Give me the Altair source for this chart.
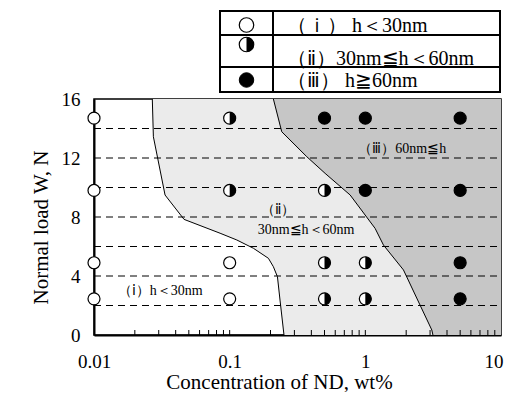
import altair as alt
import pandas as pd

# ---- data ----
conc = [0.01] * 4 + [0.1] * 4 + [0.5] * 4 + [1] * 4 + [5] * 4
load = [2.45, 4.9, 9.8, 14.7] * 5
state = (["open"] * 4 + ["open", "open", "half", "half"] + ["half", "half", "half", "full"]
         + ["half", "half", "full", "full"] + ["full"] * 4)

b1_x = [0.0269, 0.0274, 0.0334, 0.0461, 0.085, 0.113, 0.1496, 0.193, 0.210, 0.225, 0.235, 0.249, 0.2515]
b1_y = [16, 13.44, 9.49, 7.84, 6.9, 6.44, 5.88, 5.20, 4.63, 3.95, 2.37, 0.34, 0]
b2_x = [0.21, 0.242, 0.37, 0.505, 0.773, 1.18, 1.36, 1.91, 3.09, 3.15]
b2_y = [16, 13.78, 12.09, 10.96, 9.49, 7.23, 6.1, 4.41, 0.34, 0]

grid_y = [2, 4, 6, 8, 10, 12, 14]
minor_x = [0.02, 0.03, 0.04, 0.05, 0.06, 0.07, 0.08, 0.09, 0.1,
           0.2, 0.3, 0.4, 0.5, 0.6, 0.7, 0.8, 0.9, 1,
           2, 3, 4, 5, 6, 7, 8, 9]

region_text = ["（ⅲ）60nm≦h", "（ⅱ）", "30nm≦h＜60nm", "（ⅰ）h＜30nm"]
region_x = [1.87, 0.2256, 0.366, 0.0307]
region_y = [12.6, 8.47, 7.12, 2.98]

legend_text = ["（ｉ） h＜30nm", "（ⅱ）30nm≦h＜60nm", "（ⅲ） h≧60nm"]
legend_state = ["open", "half", "full"]
row_top = [0, 24, 56]
row_bot = [24, 56, 81]
sym_y = [14, 33.5, 69]
text_y = [15, 48, 70]
col_left = [0, 53]
col_right = [53, 280]

FONT = "Liberation Serif"
W, H = 407, 236

pts = pd.DataFrame({"x": conc, "y": load, "state": state})
b1 = pd.DataFrame({"x": b1_x, "y": b1_y})
b2 = pd.DataFrame({"x": b2_x, "y": b2_y})
# regions to the right of each boundary close at the lower-right corner of the plot
a1 = pd.DataFrame({"x": b1_x + [10], "y": b1_y + [0]})
a2 = pd.DataFrame({"x": b2_x + [10], "y": b2_y + [0]})
grid = pd.DataFrame({"y": grid_y})
ticks = pd.DataFrame({"x": minor_x})
rlab = pd.DataFrame({"x": region_x, "y": region_y, "t": region_text})

xs = alt.Scale(type="log", domain=[0.01, 10], nice=False)
ys = alt.Scale(domain=[0, 16], nice=False)
xax = alt.Axis(values=[0.01, 0.1, 1, 10], format="~g", labelPadding=17, labelFlush=False,
               labelAlign={"condition": {"test": "datum.value >= 10", "value": "right"}, "value": "center"},
               labelOffset={"condition": {"test": "datum.value >= 10", "value": 2}, "value": 0},
               titlePadding=0, titleX=185, titleAlign="center", labelOverlap=False)
yax = alt.Axis(values=list(range(0, 17, 2)), labelPadding=14, titlePadding=10,
               titleY=128, titleAlign="center")
XT = "Concentration of ND, wt%"
YT = "Normal load W, N"


def X(f="x"):
    return alt.X(f"{f}:Q", scale=xs, axis=xax, title=XT)


def Y(f="y"):
    return alt.Y(f"{f}:Q", scale=ys, axis=yax, title=YT)


half_path = "M0,-1A1,1,0,0,1,0,1Z"

area23 = alt.Chart(a1).mark_area(color="#ebebeb", opacity=1).encode(
    x=X(), y=Y(), y2=alt.datum(16))
area3 = alt.Chart(a2).mark_area(color="#c6c6c6", opacity=1).encode(
    x=X(), y=Y(), y2=alt.datum(16))
line1 = alt.Chart(b1).mark_line(color="black", strokeWidth=1).encode(x=X(), y=Y())
line2 = alt.Chart(b2).mark_line(color="black", strokeWidth=1).encode(x=X(), y=Y())
gridl = alt.Chart(grid).mark_rule(color="black", strokeWidth=1, strokeDash=[7, 5]).encode(
    y=Y(), x=alt.datum(0.01, scale=xs), x2=alt.datum(10))
tickl = alt.Chart(ticks).mark_rule(color="black", strokeWidth=1).encode(
    x=X(), y=alt.datum(0, scale=ys), y2=alt.value(H - 5))

circ = alt.Chart(pts).transform_filter("datum.state != 'full'").mark_point(
    shape="circle", size=144, filled=True, fill="white", stroke="black", strokeWidth=1.2,
    opacity=1).encode(x=X(), y=Y())
halfm = alt.Chart(pts).transform_filter("datum.state == 'half'").mark_point(
    shape=half_path, size=144, filled=True, fill="black", strokeWidth=0, opacity=1).encode(x=X(), y=Y())
full = alt.Chart(pts).transform_filter("datum.state == 'full'").mark_point(
    shape="circle", size=144, filled=True, fill="black", stroke="black", strokeWidth=1.2,
    opacity=1).encode(x=X(), y=Y())
rtext = alt.Chart(rlab).mark_text(font=FONT, fontSize=14, color="black").encode(
    x=X(), y=Y(), text="t:N")

plot = alt.layer(area23, area3, line1, line2, gridl, tickl, circ, halfm, full, rtext)

# ---- legend table ----
cells = pd.DataFrame({
    "x0": [c for r in range(3) for c in col_left],
    "x1": [c for r in range(3) for c in col_right],
    "y0": [row_top[r] for r in range(3) for c in col_left],
    "y1": [row_bot[r] for r in range(3) for c in col_left],
})
leg = pd.DataFrame({"t": legend_text, "state": legend_state, "sy": sym_y, "ty": text_y,
                    "sx": [26.5] * 3, "tx": [67] * 3})
txs = alt.Scale(domain=[0, 280], range=[126, 406])
tys = alt.Scale(domain=[0, 81], range=[-88, -7])

tcell = alt.Chart(cells).mark_rect(fill="white", stroke="black", strokeWidth=2).encode(
    x=alt.X("x0:Q", scale=txs, axis=None), x2="x1:Q",
    y=alt.Y("y0:Q", scale=tys, axis=None), y2="y1:Q")
tcirc = alt.Chart(leg).transform_filter("datum.state != 'full'").mark_point(
    shape="circle", size=210, filled=True, fill="white", stroke="black", strokeWidth=1.2, opacity=1).encode(
    x=alt.X("sx:Q", scale=txs, axis=None), y=alt.Y("sy:Q", scale=tys, axis=None))
thalf = alt.Chart(leg).transform_filter("datum.state == 'half'").mark_point(
    shape=half_path, size=210, filled=True, fill="black", strokeWidth=0, opacity=1).encode(
    x=alt.X("sx:Q", scale=txs, axis=None), y=alt.Y("sy:Q", scale=tys, axis=None))
tfull = alt.Chart(leg).transform_filter("datum.state == 'full'").mark_point(
    shape="circle", size=210, filled=True, fill="black", stroke="black", strokeWidth=1, opacity=1).encode(
    x=alt.X("sx:Q", scale=txs, axis=None), y=alt.Y("sy:Q", scale=tys, axis=None))
ttext = alt.Chart(leg).mark_text(font=FONT, fontSize=20, color="black", align="left").encode(
    x=alt.X("tx:Q", scale=txs, axis=None), y=alt.Y("ty:Q", scale=tys, axis=None), text="t:N")
table = alt.layer(tcell, tcirc, thalf, tfull, ttext)

chart = alt.layer(plot, table).resolve_scale(x="independent", y="independent").properties(
    width=W, height=H, autosize=alt.AutoSizeParams(type="none"),
    padding={"left": 86, "top": 91, "right": 3, "bottom": 57},
).configure_view(stroke="black", strokeWidth=1.5).configure_axis(
    domainColor="black", domainWidth=2, ticks=False, grid=False,
    labelFont=FONT, labelFontSize=19, labelColor="black",
    titleFont=FONT, titleFontSize=21, titleFontWeight="normal", titleColor="black",
)

chart.save("out.html", embed_options={"renderer": "svg", "actions": False})
